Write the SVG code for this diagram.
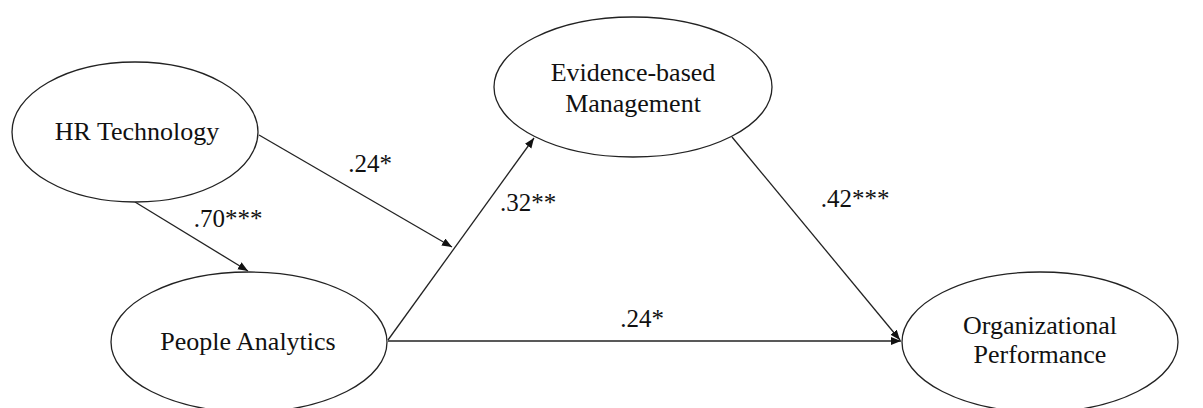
<svg xmlns="http://www.w3.org/2000/svg" width="1203" height="408" viewBox="0 0 1203 408">
<style>
.node ellipse{fill:#ffffff;stroke:#222;stroke-width:1.3}
.lbl{font-family:"Liberation Serif","Times New Roman",serif;font-size:26px;fill:#111;text-anchor:middle}
.coef{font-family:"Liberation Serif","Times New Roman",serif;font-size:25px;fill:#111;text-anchor:middle}
.edge{stroke:#222;stroke-width:1.3;fill:none}
</style>
<defs>
<marker id="arr" markerUnits="userSpaceOnUse" markerWidth="11" markerHeight="9" refX="10" refY="4" orient="auto">
<path d="M0,0 L10,4 L0,8 Z" fill="#111"/>
</marker>
</defs>
<rect width="1203" height="408" fill="#ffffff"/>
<g id="connectors">
<line class="edge" x1="135" y1="202" x2="248" y2="271" marker-end="url(#arr)"/>
<line class="edge" x1="259" y1="135" x2="452" y2="247" marker-end="url(#arr)"/>
<line class="edge" x1="388" y1="340" x2="534" y2="138" marker-end="url(#arr)"/>
<line class="edge" x1="388" y1="341" x2="901" y2="341" marker-end="url(#arr)"/>
<line class="edge" x1="732" y1="137" x2="900" y2="340" marker-end="url(#arr)"/>
<text class="coef" x="370" y="172">.24*</text>
<text class="coef" x="228" y="227">.70***</text>
<text class="coef" x="528" y="211">.32**</text>
<text class="coef" x="855" y="207">.42***</text>
<text class="coef" x="642" y="327">.24*</text>
</g>
<g id="hr-technology" class="node">
<ellipse cx="135" cy="132" rx="123" ry="70"/>
<text class="lbl" x="137" y="140">HR Technology</text>
</g>
<g id="people-analytics" class="node">
<ellipse cx="249" cy="342" rx="138" ry="70"/>
<text class="lbl" x="248" y="350">People Analytics</text>
</g>
<g id="evidence-based-management" class="node">
<ellipse cx="633" cy="87" rx="139" ry="70"/>
<text class="lbl" x="633" y="81">Evidence-based</text>
<text class="lbl" x="633" y="112">Management</text>
</g>
<g id="organizational-performance" class="node">
<ellipse cx="1040" cy="342" rx="138" ry="70"/>
<text class="lbl" x="1040" y="334">Organizational</text>
<text class="lbl" x="1040" y="363">Performance</text>
</g>
</svg>
